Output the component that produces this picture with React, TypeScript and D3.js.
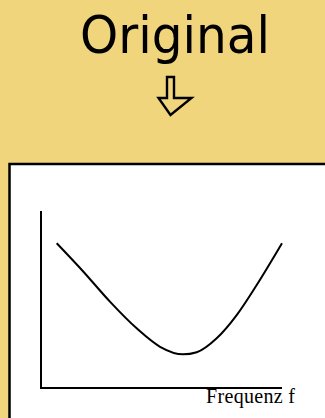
import React from "react";
import * as d3 from "d3";

// curve: frequency (x) vs value (y), arbitrary units 0..10
const freq = [0.65, 1.76, 2.86, 3.97, 4.94, 5.9, 6.46, 7.29, 8.12, 8.95, 10.0];
const level = [8.18, 6.57, 4.88, 3.37, 2.33, 1.9, 2.02, 2.81, 4.12, 5.82, 8.18];
const title = "Original";
const xLabel = "Frequenz f";

const W = 325;
const H = 418;

export default function App() {
  const x = d3.scaleLinear().domain([0, 10]).range([41, 282]);
  const y = d3.scaleLinear().domain([0, 10]).range([388, 211]);

  const pts: [number, number][] = freq.map((f, i) => [f, level[i]]);
  const path = d3
    .line<[number, number]>()
    .x((d) => x(d[0]))
    .y((d) => y(d[1]))
    .curve(d3.curveMonotoneX)(pts);

  // hollow down arrow under the title
  const arrow = "M167,77 L174,77 L174,98 L191.5,98 L170.5,115 L158.5,98 L167,98 Z";

  return (
    <svg
      width={W}
      height={H}
      style={{ position: "absolute", left: 0, top: 0, display: "block" }}
    >
      <rect x={0} y={0} width={W} height={H} fill="#f0d57c" />
      <text
        x={175}
        y={53}
        textAnchor="middle"
        fontFamily="'DejaVu Sans', sans-serif"
        fontSize={52}
        textLength={190}
        lengthAdjust="spacingAndGlyphs"
        fill="#000"
      >
        {title}
      </text>
      <path d={arrow} fill="none" stroke="#000" strokeWidth={2.4} strokeLinejoin="miter" />

      <rect x={9.5} y={164} width={400} height={400} fill="#fff" stroke="#000" strokeWidth={2.5} />

      {/* axes */}
      <line x1={x(0)} y1={y(10)} x2={x(0)} y2={y(0)} stroke="#000" strokeWidth={2} />
      <line x1={x(0) - 1} y1={y(0)} x2={x(10)} y2={y(0)} stroke="#000" strokeWidth={2} />

      <path d={path ?? ""} fill="none" stroke="#000" strokeWidth={2} />

      <text
        x={206}
        y={403}
        fontFamily="'Liberation Serif', 'Times New Roman', serif"
        fontSize={20}
        textLength={89}
        lengthAdjust="spacing"
        fill="#000"
      >
        {xLabel}
      </text>
    </svg>
  );
}
